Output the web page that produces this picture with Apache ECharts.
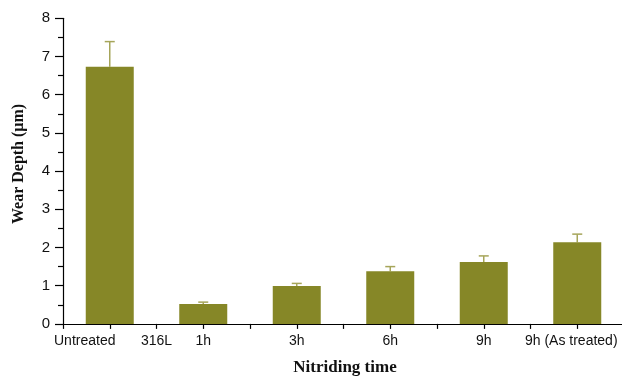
<!DOCTYPE html>
<html>
<head>
<meta charset="utf-8">
<script src="https://cdn.jsdelivr.net/npm/echarts@6/dist/echarts.min.js"></script>
<style>
html,body{margin:0;padding:0;background:#fff;}
#chart{width:622px;height:379px;}
</style>
</head>
<body>
<div id="chart"></div>
<script>
// Slot positions on the x scale and the labels shown under them
const slots = [1, 2, 3, 5, 7, 9, 11];
const slotLabels = ['Untreated', '316L', '1h', '3h', '6h', '9h', '9h (As treated)'];

// Measured wear depth (µm) per sample, placed at its slot
const barSlots = [1, 3, 5, 7, 9, 11];
const wearDepth = [6.73, 0.52, 0.99, 1.38, 1.62, 2.14];
const wearError = [0.66, 0.05, 0.07, 0.12, 0.16, 0.21];

const yTicks = [0, 1, 2, 3, 4, 5, 6, 7, 8];

const barColor = '#868727';
const errColor = '#a6a55a';

const labelMap = {};
slots.forEach((s, i) => { labelMap[s] = slotLabels[i]; });

const chart = echarts.init(document.getElementById('chart'));

chart.setOption({
  animation: false,
  backgroundColor: '#fff',
  grid: { left: 63, width: 561, top: 18.3, bottom: 55.1, containLabel: false, outerBoundsMode: 'none' },
  xAxis: {
    type: 'value',
    min: 0, max: 12, interval: 1,
    axisLine: { show: true, onZero: false, lineStyle: { color: '#000', width: 1.2 } },
    axisTick: { show: true, length: 5, lineStyle: { color: '#000', width: 1.2 } },
    splitLine: { show: false },
    axisLabel: {
      margin: 10,
      fontFamily: 'Liberation Sans, Arial, sans-serif',
      fontSize: 14,
      color: '#111',
      showMinLabel: true,
      showMaxLabel: true,
      formatter: v => {
        const t = labelMap[v];
        if (!t) return '';
        if (t === 'Untreated') return '{l|' + t + '}';
        if (t === '9h (As treated)') return '{r|' + t + '}';
        return t;
      },
      rich: {
        l: { fontFamily: 'Liberation Sans, Arial, sans-serif', fontSize: 14, color: '#111', padding: [0, 50, 0, 0] },
        r: { fontFamily: 'Liberation Sans, Arial, sans-serif', fontSize: 14, color: '#111', padding: [0, 12, 0, 0] }
      }
    }
  },
  yAxis: {
    type: 'value',
    min: yTicks[0], max: yTicks[yTicks.length - 1], interval: 1,
    axisLine: { show: true, lineStyle: { color: '#000', width: 1.2 } },
    axisTick: { show: true, length: 8, lineStyle: { color: '#000', width: 1.2 } },
    minorTick: { show: true, splitNumber: 2, length: 5, lineStyle: { color: '#000', width: 1.2 } },
    splitLine: { show: false },
    axisLabel: {
      margin: 13,
      fontFamily: 'Liberation Sans, Arial, sans-serif',
      fontSize: 15,
      color: '#111'
    }
  },
  graphic: [
    {
      type: 'text',
      x: 19, y: 164,
      rotation: Math.PI / 2,
      style: {
        text: 'Wear Depth (\u03bcm)',
        font: 'bold 16px "Liberation Serif", "Times New Roman", serif',
        fill: '#111',
        align: 'center',
        verticalAlign: 'middle'
      }
    },
    {
      type: 'text',
      x: 345, y: 368,
      style: {
        text: 'Nitriding time',
        font: 'bold 17px "Liberation Serif", "Times New Roman", serif',
        fill: '#111',
        align: 'center',
        verticalAlign: 'middle'
      }
    }
  ],
  series: [
    {
      type: 'custom',
      z: 1,
      data: barSlots.map((s, i) => [s, wearDepth[i] + wearError[i], wearDepth[i]]),
      renderItem: (params, api) => {
        const top = api.coord([api.value(0), api.value(1)]);
        const base = api.coord([api.value(0), api.value(2)]);
        const cap = 5;
        return {
          type: 'group',
          children: [
            { type: 'line', shape: { x1: top[0], y1: top[1], x2: base[0], y2: base[1] },
              style: { stroke: errColor, lineWidth: 1.5 } },
            { type: 'line', shape: { x1: top[0] - cap, y1: top[1], x2: top[0] + cap, y2: top[1] },
              style: { stroke: errColor, lineWidth: 1.5 } }
          ]
        };
      }
    },
    {
      type: 'bar',
      z: 2,
      barWidth: 48,
      itemStyle: { color: barColor },
      data: barSlots.map((s, i) => [s, wearDepth[i]])
    }
  ]
});
</script>
</body>
</html>
